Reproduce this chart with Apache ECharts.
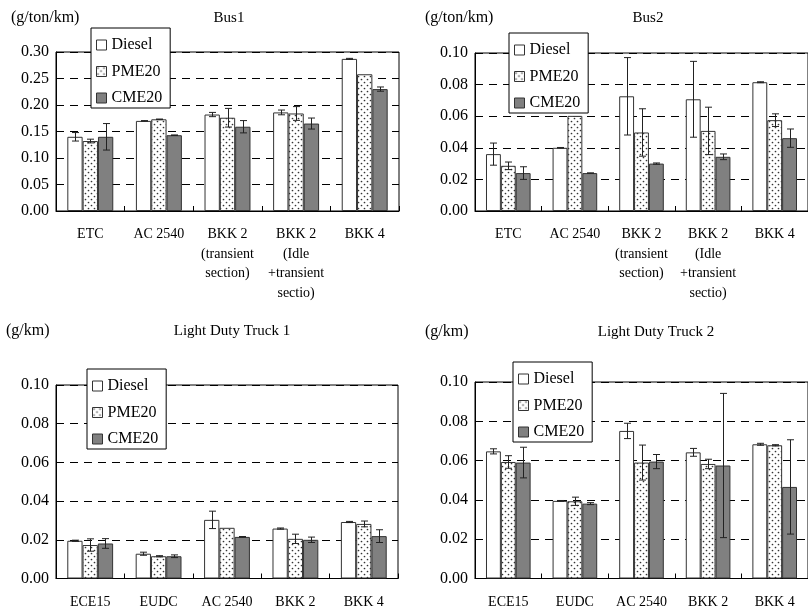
<!DOCTYPE html>
<html>
<head>
<meta charset="utf-8">
<script src="https://cdn.jsdelivr.net/npm/echarts@6/dist/echarts.min.js"></script>
<style>html,body{margin:0;padding:0;background:#fff;}#c{width:808px;height:612px;}</style>
</head>
<body>
<div id="c"></div>
<script>
// ---------- DATA ----------
const seriesNames = ['Diesel', 'PME20', 'CME20'];
const busCats = ['ETC', 'AC 2540', 'BKK 2\n(transient\nsection)', 'BKK 2\n(Idle\n+transient\nsectio)', 'BKK 4'];
const ldtCats = ['ECE15', 'EUDC', 'AC 2540', 'BKK 2', 'BKK 4'];

const bus1Diesel = [0.140, 0.170, 0.182, 0.186, 0.287];
const bus1DieselErr = [0.008, 0.0005, 0.004, 0.0045, 0.001];
const bus1PME = [0.132, 0.173, 0.176, 0.184, 0.258];
const bus1PMEErr = [0.0035, 0.0005, 0.0176, 0.013, 0];
const bus1CME = [0.140, 0.143, 0.159, 0.165, 0.230];
const bus1CMEErr = [0.025, 0.0005, 0.0116, 0.0104, 0.004];

const bus2Diesel = [0.036, 0.040, 0.0726, 0.0707, 0.0815];
const bus2DieselErr = [0.007, 0.0002, 0.0245, 0.024, 0.0003];
const bus2PME = [0.0286, 0.0602, 0.0497, 0.0507, 0.0575];
const bus2PMEErr = [0.0024, 0, 0.015, 0.015, 0.004];
const bus2CME = [0.024, 0.024, 0.030, 0.0343, 0.0461];
const bus2CMEErr = [0.004, 0.0001, 0.0004, 0.0018, 0.0058];

const ldt1Diesel = [0.0195, 0.0128, 0.0303, 0.0258, 0.0292];
const ldt1DieselErr = [0.0003, 0.0008, 0.0045, 0.0003, 0.0003];
const ldt1PME = [0.0173, 0.0115, 0.0262, 0.0205, 0.0282];
const ldt1PMEErr = [0.0032, 0.0003, 0, 0.0024, 0.0015];
const ldt1CME = [0.0181, 0.0115, 0.0215, 0.0200, 0.0219];
const ldt1CMEErr = [0.0025, 0.0007, 0.0002, 0.0014, 0.0033];

const ldt2Diesel = [0.0647, 0.0395, 0.0751, 0.0642, 0.0683];
const ldt2DieselErr = [0.0013, 0.0002, 0.0039, 0.002, 0.0005];
const ldt2PME = [0.0593, 0.0393, 0.059, 0.0583, 0.0678];
const ldt2PMEErr = [0.0032, 0.0021, 0.0089, 0.0024, 0.0003];
const ldt2CME = [0.059, 0.0381, 0.0595, 0.0575, 0.0466];
const ldt2CMEErr = [0.0078, 0.0005, 0.0036, 0.0367, 0.024];

const panelTitles = ['Bus1', 'Bus2', 'Light Duty Truck 1', 'Light Duty Truck 2'];
const panelUnits = ['(g/ton/km)', '(g/ton/km)', '(g/km)', '(g/km)'];
const panelMax = [0.30, 0.10, 0.10, 0.10];
const panelInterval = [0.05, 0.02, 0.02, 0.02];

// ---------- STYLE / LAYOUT ----------
const FONT = "'Liberation Serif', 'Times New Roman', serif";
const panels = [
  { cats: busCats, vals: [bus1Diesel, bus1PME, bus1CME], errs: [bus1DieselErr, bus1PMEErr, bus1CMEErr],
    grid: { left: 56, top: 52, width: 343, height: 159 }, legend: { left: 91, top: 28 },
    unitPos: [11, 18], titlePos: [229, 18] },
  { cats: busCats, vals: [bus2Diesel, bus2PME, bus2CME], errs: [bus2DieselErr, bus2PMEErr, bus2CMEErr],
    grid: { left: 475, top: 53, width: 345, height: 158 }, legend: { left: 509, top: 33 },
    unitPos: [425, 18], titlePos: [648, 18] },
  { cats: ldtCats, vals: [ldt1Diesel, ldt1PME, ldt1CME], errs: [ldt1DieselErr, ldt1PMEErr, ldt1CMEErr],
    grid: { left: 56, top: 385, width: 342, height: 195 }, legend: { left: 87, top: 369 },
    unitPos: [6, 331], titlePos: [232, 331] },
  { cats: ldtCats, vals: [ldt2Diesel, ldt2PME, ldt2CME], errs: [ldt2DieselErr, ldt2PMEErr, ldt2CMEErr],
    grid: { left: 475, top: 382, width: 345, height: 199 }, legend: { left: 513, top: 362 },
    unitPos: [425, 332], titlePos: [656, 332] }
];

// dotted pattern
function dotPattern() {
  const c = document.createElement('canvas');
  c.width = 6; c.height = 6;
  const ctx = c.getContext('2d');
  ctx.fillStyle = '#ffffff';
  ctx.fillRect(0, 0, 6, 6);
  ctx.fillStyle = '#333333';
  ctx.beginPath(); ctx.arc(1.5, 1.5, 0.85, 0, Math.PI * 2); ctx.fill();
  ctx.beginPath(); ctx.arc(4.5, 4.5, 0.85, 0, Math.PI * 2); ctx.fill();
  return c;
}
const fills = ['#ffffff', { image: dotPattern(), repeat: 'repeat' }, '#808080'];
const CAT_GAP = 0.33;

const grids = [], xAxes = [], yAxes = [], series = [], legends = [], graphics = [];

panels.forEach((p, pi) => {
  grids.push(Object.assign({ show: true, borderColor: '#000', borderWidth: 1, backgroundColor: 'transparent' }, p.grid));
  xAxes.push({
    type: 'category', gridIndex: pi, data: p.cats,
    axisLine: { lineStyle: { color: '#000', width: 1 } },
    axisTick: { show: true, inside: true, length: 5, lineStyle: { color: '#000' } },
    axisLabel: { interval: 0, color: '#000', fontFamily: FONT, fontSize: 14, lineHeight: 19.5, margin: 14 },
    splitLine: { show: false }
  });
  yAxes.push({
    type: 'value', gridIndex: pi, min: 0, max: panelMax[pi], interval: panelInterval[pi],
    axisLine: { show: true, lineStyle: { color: '#000', width: 1 } },
    axisTick: { show: false },
    axisLabel: { color: '#000', fontFamily: FONT, fontSize: 16, margin: 7, formatter: v => v.toFixed(2) },
    splitLine: { show: true, lineStyle: { color: '#000', type: [8, 6], width: 1 } }
  });
  seriesNames.forEach((name, k) => {
    series.push({
      type: 'bar', name: name, xAxisIndex: pi, yAxisIndex: pi,
      data: p.vals[k], barGap: 0, barCategoryGap: (CAT_GAP * 100) + '%',
      itemStyle: { color: fills[k], borderColor: '#333', borderWidth: 1 },
      emphasis: { disabled: true }, animation: false, z: 2
    });
  });
  seriesNames.forEach((name, k) => {
    const errData = p.vals[k].map((v, i) => [i, v - p.errs[k][i], v + p.errs[k][i], p.errs[k][i]]);
    series.push({
      type: 'custom', name: name, xAxisIndex: pi, yAxisIndex: pi, data: errData,
      encode: { x: 0, y: [1, 2] }, z: 5, animation: false, silent: true,
      renderItem: function (params, api) {
        if (api.value(3) <= 0) return null;
        const catW = api.size([1, 0])[0];
        const barW = catW * (1 - CAT_GAP) / 3;
        const off = (k - 1) * barW;
        const lo = api.coord([api.value(0), api.value(1)]);
        const hi = api.coord([api.value(0), api.value(2)]);
        const x = Math.round(lo[0] + off) + 0.5;
        const cap = 3.5;
        const st = { stroke: '#222', lineWidth: 1 };
        return { type: 'group', children: [
          { type: 'line', shape: { x1: x, y1: lo[1], x2: x, y2: hi[1] }, style: st },
          { type: 'line', shape: { x1: x - cap, y1: lo[1], x2: x + cap, y2: lo[1] }, style: st },
          { type: 'line', shape: { x1: x - cap, y1: hi[1], x2: x + cap, y2: hi[1] }, style: st }
        ] };
      }
    });
  });
  legends.push({
    left: p.legend.left, top: p.legend.top, orient: 'vertical',
    data: seriesNames.map(n => ({ name: n, icon: 'rect' })),
    itemWidth: 10, itemHeight: 10, itemGap: 10.5, itemTextGap: 7,
    padding: [9, 8, 2, 5], backgroundColor: '#fff', borderColor: '#000', borderWidth: 1,
    borderRadius: 0, selectedMode: false, z: 10,
    itemStyle: { borderColor: '#333', borderWidth: 1 },
    textStyle: { color: '#000', fontFamily: FONT, fontSize: 16, lineHeight: 16 }
  });
  graphics.push({
    type: 'text', x: p.unitPos[0], y: p.unitPos[1],
    style: { text: panelUnits[pi], fill: '#000', font: '16px ' + FONT, textAlign: 'left', textVerticalAlign: 'middle' }
  });
  graphics.push({
    type: 'text', x: p.titlePos[0], y: p.titlePos[1],
    style: { text: panelTitles[pi], fill: '#000', font: '15px ' + FONT, textAlign: 'center', textVerticalAlign: 'middle' }
  });
});

const chart = echarts.init(document.getElementById('c'), null, { renderer: 'canvas' });
chart.setOption({
  backgroundColor: '#fff',
  animation: false,
  grid: grids, xAxis: xAxes, yAxis: yAxes, series: series, legend: legends,
  graphic: graphics
});
</script>
</body>
</html>
